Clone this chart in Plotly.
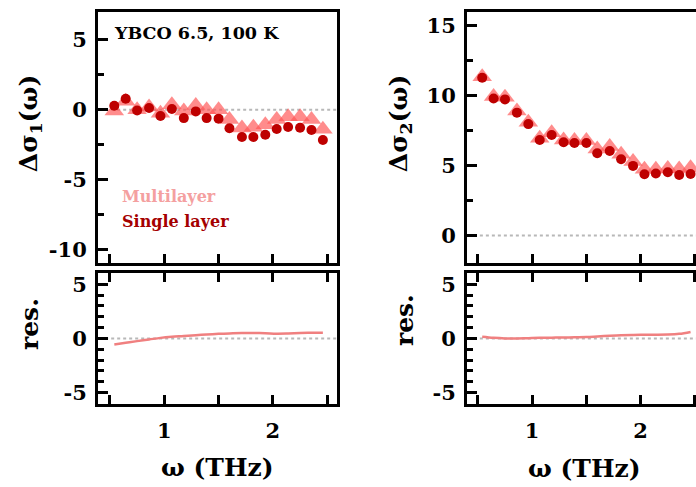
import plotly.graph_objects as go

W, H = 696, 487

# ---------------- data ----------------
freq = [0.54, 0.645, 0.75, 0.86, 0.965, 1.07, 1.18, 1.29, 1.39, 1.50,
        1.60, 1.715, 1.82, 1.93, 2.035, 2.14, 2.25, 2.355, 2.46]

s1_multi = [-0.1, 0.6, 0.0, 0.2, -0.25, 0.35, -0.1, 0.3, 0.0, 0.0,
            -0.7, -1.3, -1.25, -1.07, -0.7, -0.5, -0.5, -0.7, -1.4]
s1_single = [0.29, 0.79, -0.05, 0.12, -0.45, 0.05, -0.6, -0.12, -0.6, -0.64,
             -1.33, -1.95, -1.95, -1.79, -1.38, -1.24, -1.29, -1.45, -2.17]
s1_res = [-0.56, -0.4, -0.25, -0.1, 0.05, 0.15, 0.22, 0.3, 0.36, 0.42,
          0.46, 0.5, 0.5, 0.48, 0.44, 0.46, 0.5, 0.52, 0.52]

s2_multi = [11.36, 9.95, 9.9, 8.9, 8.1, 6.95, 7.36, 6.83, 6.8, 6.8,
            6.19, 6.36, 5.81, 5.29, 4.74, 4.74, 4.8, 4.76, 4.85]
s2_single = [11.29, 9.8, 9.74, 8.79, 7.97, 6.83, 7.19, 6.67, 6.62, 6.62,
             5.88, 6.05, 5.45, 4.98, 4.38, 4.43, 4.52, 4.33, 4.4]
s2_res = [0.15, 0.05, 0.0, 0.0, 0.02, 0.05, 0.07, 0.08, 0.1, 0.12,
          0.18, 0.25, 0.3, 0.32, 0.33, 0.33, 0.35, 0.42, 0.6]

x_tickvals = [1, 2]
x_ticktext = ["1", "2"]
y1_tickvals = [-10, -5, 0, 5]
y1_ticktext = ["-10", "-5", "0", "5"]
y2_tickvals = [0, 5, 10, 15]
y2_ticktext = ["0", "5", "10", "15"]
res_tickvals = [-5, 0, 5]
res_ticktext = ["-5", "0", "5"]

# ---------------- style ----------------
FONT = "DejaVu Serif"
C_MULTI = "rgba(255,85,85,0.68)"
C_SINGLE = "#BE0000"
C_RES = "#F08080"
C_MULTI_TXT = "#F4A0A0"
C_SINGLE_TXT = "#A50000"

def px_x(p):
    return p / W

def px_y(p):
    return 1 - p / H

fig = go.Figure()

dx_left = [px_x(98), px_x(337)]
dx_right = [px_x(467), 1.0]
dy_top = [px_y(263), px_y(10)]
dy_bot = [px_y(404), px_y(273)]

def add_pair(xa, ya, multi, single):
    fig.add_trace(go.Scatter(x=freq, y=multi, mode="markers", xaxis=xa, yaxis=ya,
                             marker=dict(symbol="triangle-up", size=17, color=C_MULTI,
                                         line=dict(width=0)),
                             showlegend=False, cliponaxis=True))
    fig.add_trace(go.Scatter(x=freq, y=single, mode="markers", xaxis=xa, yaxis=ya,
                             marker=dict(symbol="circle", size=10, color=C_SINGLE,
                                         line=dict(width=0)),
                             showlegend=False, cliponaxis=True))

add_pair("x", "y", s1_multi, s1_single)
add_pair("x2", "y2", s2_multi, s2_single)
fig.add_trace(go.Scatter(x=freq, y=s1_res, mode="lines", xaxis="x3", yaxis="y3",
                         line=dict(color=C_RES, width=2.5, shape="spline"), showlegend=False))
fig.add_trace(go.Scatter(x=freq, y=s2_res, mode="lines", xaxis="x4", yaxis="y4",
                         line=dict(color=C_RES, width=2.5, shape="spline"), showlegend=False))

tickfont = dict(family=FONT, size=21, color="black", weight="bold")

def xaxis(domain, rng, anchor, labels, mirror):
    return dict(domain=domain, range=rng, anchor=anchor, showgrid=False, zeroline=False,
                showline=True, linecolor="black", linewidth=3, mirror=mirror,
                ticks="inside", ticklen=9, tickwidth=3, tickcolor="black",
                tickvals=x_tickvals, ticktext=x_ticktext,
                showticklabels=labels, tickfont=tickfont, ticklabelstandoff=6,
                minor=dict(ticks="inside", ticklen=9, tickwidth=3, tickcolor="black",
                           dtick=0.5, tick0=0, showgrid=False))

def yaxis(domain, rng, anchor, tv, tt, minor_dtick, mirror):
    return dict(domain=domain, range=rng, anchor=anchor, showgrid=False, zeroline=False,
                showline=True, linecolor="black", linewidth=3, mirror=mirror,
                ticks="inside", ticklen=10, tickwidth=3, tickcolor="black",
                tickvals=tv, ticktext=tt, tickfont=tickfont, ticklabelstandoff=4,
                minor=dict(ticks="inside", ticklen=6, tickwidth=2.5, tickcolor="black",
                           dtick=minor_dtick, tick0=0, showgrid=False))

fig.update_layout(
    width=W, height=H,
    margin=dict(l=0, r=0, t=0, b=0),
    paper_bgcolor="white", plot_bgcolor="white",
    xaxis=xaxis(dx_left, [0.39, 2.59], "y", False, True),
    yaxis=yaxis(dy_top, [-11, 7], "x", y1_tickvals, y1_ticktext, 2.5, True),
    xaxis2=xaxis(dx_right, [0.40, 2.51], "y2", False, True),
    yaxis2=yaxis(dy_top, [-2, 16], "x2", y2_tickvals, y2_ticktext, 2.5, False),
    xaxis3=xaxis(dx_left, [0.39, 2.59], "y3", True, "ticks"),
    yaxis3=yaxis(dy_bot, [-6, 6], "x3", res_tickvals, res_ticktext, 1, True),
    xaxis4=xaxis(dx_right, [0.40, 2.51], "y4", True, "ticks"),
    yaxis4=yaxis(dy_bot, [-6, 6], "x4", res_tickvals, res_ticktext, 1, False),
)

for xr, yr in [("x", "y"), ("x2", "y2"), ("x3", "y3"), ("x4", "y4")]:
    fig.add_shape(type="line", xref=f"{xr} domain", yref=yr, x0=0.03, x1=1, y0=0, y1=0,
                  line=dict(color="#B8B8B8", width=2, dash="dot"), layer="below")

def ann(text, x, y, size, color="black", angle=0, xanchor="center"):
    fig.add_annotation(text=text, x=px_x(x), y=px_y(y), xref="paper", yref="paper",
                       showarrow=False, textangle=angle, xanchor=xanchor, yanchor="middle",
                       font=dict(family=FONT, size=size, color=color, weight="bold"))

ann("YBCO 6.5, 100 K", 112, 31, 17.5, xanchor="left")
ann("Multilayer", 120, 196, 16, C_MULTI_TXT, xanchor="left")
ann("Single layer", 120, 221, 16, C_SINGLE_TXT, xanchor="left")

ann("Δσ<sub>1</sub>(ω)", 30, 122, 25, angle=-90)
ann("Δσ<sub>2</sub>(ω)", 400, 122, 25, angle=-90)
ann("res.", 29, 324, 25, angle=-90)
ann("res.", 404, 320, 25, angle=-90)
ann("ω (THz)", 217, 468, 25)
ann("ω (THz)", 584, 469, 25)

fig.write_html("out.html")
